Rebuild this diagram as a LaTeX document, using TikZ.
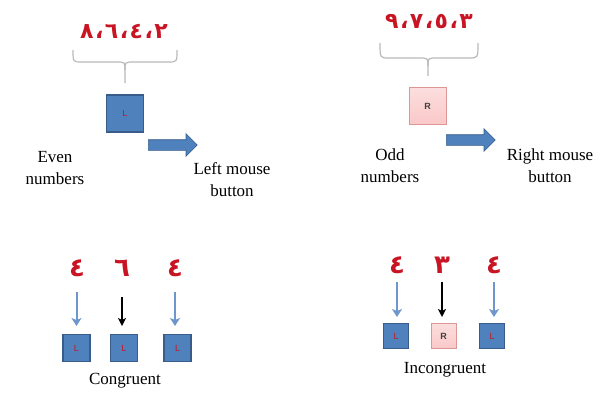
\documentclass[tikz,border=0pt]{standalone}
\usepackage{fontspec}
\setmainfont{Liberation Serif}
\newfontfamily\arabicfont[Script=Arabic]{DejaVu Sans}
\newfontfamily\boxfont{Liberation Sans}
\usetikzlibrary{arrows.meta,shapes.arrows}
\definecolor{boxblue}{RGB}{79,129,189}
\definecolor{boxedge}{RGB}{56,93,138}
\definecolor{pinkfill}{RGB}{250,200,200}
\definecolor{pinkedge}{RGB}{220,150,150}
\definecolor{numred}{RGB}{200,20,35}
\definecolor{bracegray}{RGB}{185,185,185}
\definecolor{lightarrow}{RGB}{110,150,205}
\tikzset{
  lbox/.style={draw=boxedge,line width=1.2pt,fill=boxblue,minimum width=#1,minimum height=#1,inner sep=0pt,
     font=\boxfont\fontsize{9}{9}\selectfont\color{numred}},
  rbox/.style={draw=pinkedge,line width=0.8pt,top color=pinkfill!60,bottom color=pinkfill,minimum width=#1,minimum height=#1,inner sep=0pt,
     font=\boxfont\bfseries\fontsize{9}{9}\selectfont\color{black!75}},
  bigtext/.style={font=\fontsize{17}{22}\selectfont,align=center,inner sep=0pt},
  digits/.style={font=\arabicfont\bfseries\fontsize{22}{22}\selectfont,text=numred,inner sep=0pt},
  bigdigit/.style={font=\arabicfont\bfseries\fontsize{26}{26}\selectfont,text=numred,inner sep=0pt},
  blockarrow/.style={single arrow,draw=boxedge,fill=boxblue,line width=0.6pt,minimum height=49pt,inner sep=5pt,single arrow head extend=6pt,single arrow tip angle=90},
  bracepath/.style={draw=bracegray,line width=1.2pt},
  bluearrow/.style={draw=lightarrow,line width=2pt,-{Stealth[length=8pt,width=10pt,inset=2pt]}},
  blackarrow/.style={draw=black,line width=1.6pt,-{Stealth[length=8pt,width=8pt,inset=2pt]}},
}
\begin{document}
\begin{tikzpicture}[x=1pt,y=-1pt]
\useasboundingbox[fill=white] (0,0) rectangle (612,392);

% ---- top left: even numbers
\node[digits] (evens) at (124,32) {٨\hspace{1.5pt}،\hspace{1.5pt}٦\hspace{1.5pt}،\hspace{1.5pt}٤\hspace{1.5pt}،\hspace{1.5pt}٢};
\draw[bracepath] (73,50) .. controls (73,62) .. (82,62) -- (116,62) .. controls (125,62) .. (125,70) -- (125,83);
\draw[bracepath] (177,50) .. controls (177,62) .. (168,62) -- (134,62) .. controls (125,62) .. (125,70);
\node[lbox=37pt] (Ltop) at (125,113.5) {L};
\node[blockarrow,anchor=west] (arrL) at (148,145) {};
\node[bigtext] (even) at (55,168) {Even\\numbers};
\node[bigtext] (leftmb) at (232,180) {Left mouse\\button};

% ---- top right: odd numbers
\node[digits] (odds) at (429,22) {٩\hspace{1.5pt}،\hspace{1.5pt}٧\hspace{1.5pt}،\hspace{1.5pt}٥\hspace{1.5pt}،\hspace{1.5pt}٣};
\draw[bracepath] (380,43) .. controls (380,58) .. (389,58) -- (419,58) .. controls (428,58) .. (428,66) -- (428,76);
\draw[bracepath] (478,43) .. controls (478,58) .. (469,58) -- (437,58) .. controls (428,58) .. (428,66);
\node[rbox=37pt] (Rtop) at (427.5,106) {R};
\node[blockarrow,anchor=west] (arrR) at (446,140) {};
\node[bigtext] (odd) at (390,166) {Odd\\numbers};
\node[bigtext] (rightmb) at (550,166) {Right mouse\\button};

% ---- bottom left: congruent
\node[bigdigit] (c1) at (77,268) {٤};
\node[bigdigit] (c2) at (122,268) {٦};
\node[bigdigit] (c3) at (175,268) {٤};
\node[lbox=27pt] (cb1) at (76.5,348) {L};
\node[lbox=27pt] (cb2) at (124,348) {L};
\node[lbox=27pt] (cb3) at (177.5,348) {L};
\coordinate (ca1s) at (76.5,292); \coordinate (ca1e) at (76.5,326);
\coordinate (ca2s) at (122,297); \coordinate (ca2e) at (122,326);
\coordinate (ca3s) at (175,292); \coordinate (ca3e) at (175,326);
\draw[bluearrow] (ca1s) -- (ca1e);
\draw[blackarrow] (ca2s) -- (ca2e);
\draw[bluearrow] (ca3s) -- (ca3e);
\node[bigtext] (cong) at (125,381) {Congruent};

% ---- bottom right: incongruent
\node[bigdigit] (i1) at (397,265) {٤};
\node[bigdigit] (i2) at (442,265) {٣};
\node[bigdigit] (i3) at (494,265) {٤};
\node[lbox=25pt] (ib1) at (396,336) {L};
\node[rbox=25pt] (ib2) at (443.5,336) {R};
\node[lbox=25pt] (ib3) at (492,336) {L};
\coordinate (ia1s) at (397,282); \coordinate (ia1e) at (397,317);
\coordinate (ia2s) at (442,282); \coordinate (ia2e) at (442,317);
\coordinate (ia3s) at (494,282); \coordinate (ia3e) at (494,317);
\draw[bluearrow] (ia1s) -- (ia1e);
\draw[blackarrow] (ia2s) -- (ia2e);
\draw[bluearrow] (ia3s) -- (ia3e);
\node[bigtext] (incong) at (445,370) {Incongruent};
\end{tikzpicture}
\end{document}
